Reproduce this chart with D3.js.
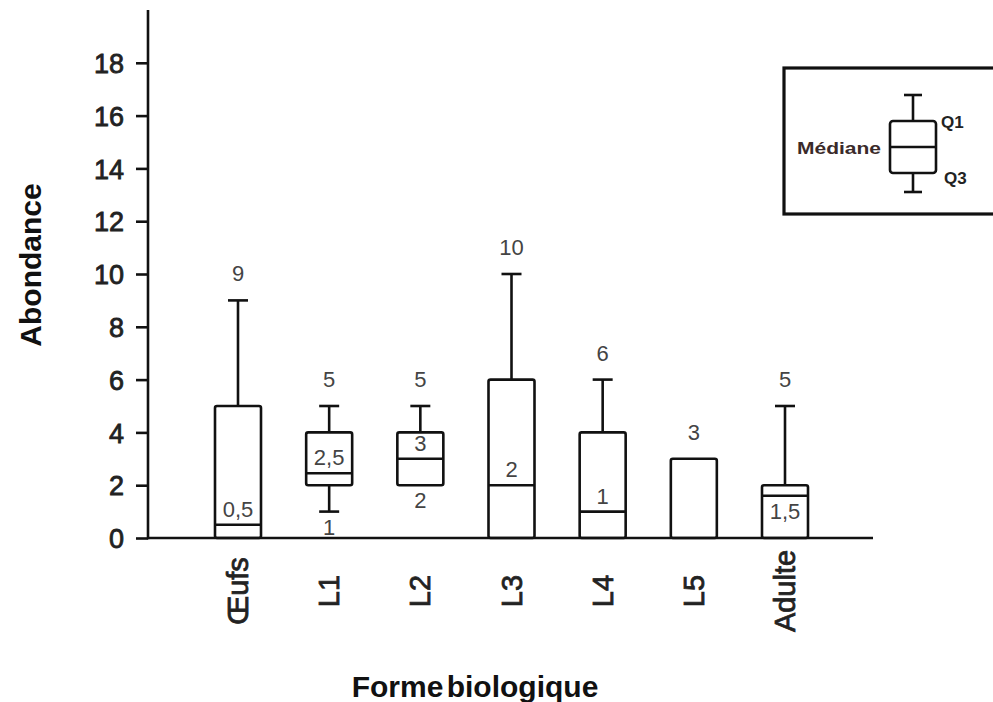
<!DOCTYPE html>
<html><head><meta charset="utf-8">
<script src="https://cdn.jsdelivr.net/npm/d3@7"></script>
<style>body{margin:0;background:#fff}svg{display:block}</style>
</head><body>
<svg id="c" width="993" height="702"></svg>
<script>
const categories = ["Œufs","L1","L2","L3","L4","L5","Adulte"];
const minValues    = [0, 1, 2, 0, 0, 0, 0];
const q1Values     = [0, 2, 2, 0, 0, 0, 0];
const medianValues = [0.5, 2.45, 3, 2, 1, 0, 1.6];
const q3Values     = [5, 4, 4, 6, 4, 3, 2];
const maxValues    = [9, 5, 5, 10, 6, 3, 5];
const yTicks = [0,2,4,6,8,10,12,14,16,18];
const annotCats   = ["Œufs","Œufs","L1","L1","L1","L2","L2","L2","L3","L3","L4","L4","L5","Adulte","Adulte"];
const annotTexts  = ["9","0,5","5","2,5","1","5","3","2","10","2","6","1","3","5","1,5"];
const annotValues = [9,0.5,5,2.45,1,5,3,2,10,2,6,1,3,5,1.6];
const annotPlaces = ["top","med","top","med","bottom","top","med","bottom","top","med","top","med","top","top","bottom"];
const xTitle = "Forme biologique";
const yTitle = "Abondance";
const legendTexts = {median:"Médiane", q1:"Q1", q3:"Q3"};

(function(){
const FONT = "'Liberation Sans', Arial, sans-serif";
const svg = d3.select("#c");
const mLeft = 148, mBottom = 538, mTop = 10, mRight = 873;
const y = d3.scaleLinear().domain([0,20]).range([mBottom, mTop]);
const x = d3.scalePoint().domain(categories).range([238, 785]);
const boxW = 46, capW = 20, SW = 2.6, ink = "#111";

// axes
const yAxis = svg.append("g").attr("transform", `translate(${mLeft},0)`)
  .call(d3.axisLeft(y).tickValues(yTicks).tickSize(12).tickPadding(12).tickFormat(d3.format("d")));
yAxis.select(".domain").remove();
yAxis.selectAll(".tick line").attr("stroke", ink).attr("stroke-width", SW);
yAxis.selectAll(".tick text").attr("font-family", FONT).attr("font-size", 27)
  .attr("fill", "#222").attr("stroke","#222").attr("stroke-width",0.8).attr("dy","0.36em");
svg.append("line").attr("x1", mLeft).attr("x2", mLeft).attr("y1", y(20)).attr("y2", mBottom + SW/2)
  .attr("stroke", ink).attr("stroke-width", SW);
svg.append("line").attr("x1", mLeft).attr("x2", mRight).attr("y1", mBottom).attr("y2", mBottom)
  .attr("stroke", ink).attr("stroke-width", SW);

// category labels
svg.append("g").selectAll("text").data(categories).join("text")
  .attr("transform", d => `translate(${x(d) + 10},591) rotate(-90)`)
  .attr("text-anchor", "middle")
  .attr("font-family", FONT).attr("font-size", 29).attr("fill", "#222").attr("stroke","#222").attr("stroke-width",0.8)
  .text(d => d);

// boxes
const data = categories.map((c,i) => ({c, min:minValues[i], q1:q1Values[i], med:medianValues[i], q3:q3Values[i], max:maxValues[i]}));
const g = svg.append("g").attr("fill","none").attr("stroke", ink).attr("stroke-width", SW).attr("stroke-linejoin","round");
data.forEach(d => {
  const cx = x(d.c);
  if (d.max > d.q3) {
    g.append("line").attr("x1",cx).attr("x2",cx).attr("y1",y(d.q3)).attr("y2",y(d.max));
    g.append("line").attr("x1",cx-capW/2).attr("x2",cx+capW/2).attr("y1",y(d.max)).attr("y2",y(d.max));
  }
  if (d.min < d.q1) {
    g.append("line").attr("x1",cx).attr("x2",cx).attr("y1",y(d.q1)).attr("y2",y(d.min));
    g.append("line").attr("x1",cx-capW/2).attr("x2",cx+capW/2).attr("y1",y(d.min)).attr("y2",y(d.min));
  }
  g.append("rect").attr("x",cx-boxW/2).attr("width",boxW).attr("y",y(d.q3)).attr("height",y(d.q1)-y(d.q3)).attr("rx",2);
  if (d.med > d.q1) g.append("line").attr("x1",cx-boxW/2).attr("x2",cx+boxW/2).attr("y1",y(d.med)).attr("y2",y(d.med));
});

// annotations
const offs = {top:-19, med:-8, bottom:23};
svg.append("g").selectAll("text").data(annotTexts.map((t,i)=>({t, c:annotCats[i], v:annotValues[i], p:annotPlaces[i]}))).join("text")
  .attr("x", d => x(d.c)).attr("y", d => y(d.v) + offs[d.p])
  .attr("text-anchor","middle").attr("font-family", FONT).attr("font-size", 22).attr("fill", "#444")
  .text(d => d.t);

// axis titles
svg.append("text").attr("x", 475).attr("y", 697).attr("text-anchor","middle")
  .attr("font-family", FONT).attr("font-size", 30).attr("font-weight","bold").attr("fill","#111")
  .attr("word-spacing", -5).text(xTitle);
svg.append("text").attr("transform","translate(41,265) rotate(-90)").attr("text-anchor","middle")
  .attr("font-family", FONT).attr("font-size", 30).attr("font-weight","bold").attr("fill","#111").text(yTitle);

// legend
const lg = svg.append("g");
lg.append("rect").attr("x",784).attr("y",68).attr("width",230).attr("height",146)
  .attr("fill","#fff").attr("stroke", ink).attr("stroke-width",3.2);
const ly = d3.scaleLinear().domain([0,1]).range([173,121]);
const lcx = 913, lbw = 46;
const lgb = lg.append("g").attr("fill","none").attr("stroke",ink).attr("stroke-width",SW);
lgb.append("line").attr("x1",lcx).attr("x2",lcx).attr("y1",95).attr("y2",ly(1));
lgb.append("line").attr("x1",lcx-9).attr("x2",lcx+9).attr("y1",95).attr("y2",95);
lgb.append("line").attr("x1",lcx).attr("x2",lcx).attr("y1",ly(0)).attr("y2",192);
lgb.append("line").attr("x1",lcx-9).attr("x2",lcx+9).attr("y1",192).attr("y2",192);
lgb.append("rect").attr("x",lcx-lbw/2).attr("width",lbw).attr("y",ly(1)).attr("height",ly(0)-ly(1)).attr("rx",3);
lgb.append("line").attr("x1",lcx-lbw/2).attr("x2",lcx+lbw/2).attr("y1",ly(0.5)).attr("y2",ly(0.5));
lg.append("text").attr("x",797).attr("y",154).attr("font-family",FONT)
  .attr("font-size",17).attr("font-weight","bold").attr("fill","#3a2a2a")
  .attr("textLength",84).attr("lengthAdjust","spacingAndGlyphs").text(legendTexts.median);
lg.append("text").attr("x",941).attr("y",128).attr("font-family",FONT)
  .attr("font-size",17).attr("font-weight","bold").attr("fill","#222").text(legendTexts.q1);
lg.append("text").attr("x",944).attr("y",184).attr("font-family",FONT)
  .attr("font-size",17).attr("font-weight","bold").attr("fill","#222").text(legendTexts.q3);
})();
</script>
</body></html>
